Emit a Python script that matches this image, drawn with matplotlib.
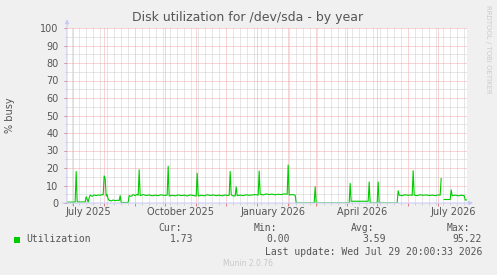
import numpy as np
import pandas as pd
import matplotlib
matplotlib.use("Agg")
import matplotlib.pyplot as plt
import matplotlib.dates as mdates
from matplotlib.patches import Rectangle

# ---------------- data ----------------
sample_dates = [
    "2025-06-24", "2025-07-03", "2025-07-04", "2025-07-05", "2025-07-13", "2025-07-14",
    "2025-07-15", "2025-07-16", "2025-07-17", "2025-07-18", "2025-07-20", "2025-07-22",
    "2025-07-24", "2025-07-26", "2025-07-28", "2025-07-30", "2025-07-31",
    "2025-08-01", "2025-08-02", "2025-08-03", "2025-08-04", "2025-08-05", "2025-08-06",
    "2025-08-08", "2025-08-10", "2025-08-12", "2025-08-14", "2025-08-16", "2025-08-17",
    "2025-08-18", "2025-08-25", "2025-08-26", "2025-08-28", "2025-08-30", "2025-09-01",
    "2025-09-03", "2025-09-04", "2025-09-05", "2025-09-06", "2025-09-09", "2025-09-12",
    "2025-09-15", "2025-09-18", "2025-09-21", "2025-09-24", "2025-09-27", "2025-09-30",
    "2025-10-03", "2025-10-04", "2025-10-05", "2025-10-08", "2025-10-11", "2025-10-14",
    "2025-10-17", "2025-10-20", "2025-10-23", "2025-10-26", "2025-10-29", "2025-11-01",
    "2025-11-02", "2025-11-03", "2025-11-06", "2025-11-09", "2025-11-12", "2025-11-15",
    "2025-11-18", "2025-11-21", "2025-11-24", "2025-11-27", "2025-11-30", "2025-12-02",
    "2025-12-04", "2025-12-05", "2025-12-06", "2025-12-07", "2025-12-10", "2025-12-11",
    "2025-12-12", "2025-12-15", "2025-12-18", "2025-12-21", "2025-12-24", "2025-12-27",
    "2025-12-30", "2026-01-02", "2026-01-03", "2026-01-04", "2026-01-07", "2026-01-10",
    "2026-01-13", "2026-01-16", "2026-01-19", "2026-01-22", "2026-01-25", "2026-01-28",
    "2026-01-31", "2026-02-01", "2026-02-02", "2026-02-05", "2026-02-08", "2026-02-09",
    "2026-02-27", "2026-02-28", "2026-03-01", "2026-04-03", "2026-04-04", "2026-04-05",
    "2026-04-22", "2026-04-23", "2026-04-24", "2026-05-01", "2026-05-02", "2026-05-03",
    "2026-05-21", "2026-05-22", "2026-05-23", "2026-05-26", "2026-05-29", "2026-06-01",
    "2026-06-04", "2026-06-05", "2026-06-06", "2026-06-07", "2026-06-10", "2026-06-13",
    "2026-06-16", "2026-06-19", "2026-06-22", "2026-06-25", "2026-06-28", "2026-07-01",
    "2026-07-03", "2026-07-04", "2026-07-05", "2026-07-06", "2026-07-07", "2026-07-13",
    "2026-07-14", "2026-07-15", "2026-07-18", "2026-07-21", "2026-07-24", "2026-07-27",
    "2026-07-28", "2026-07-29 20:00",
]
busy_pct = [
    0.5, 0.5, 18.0, 0.6, 0.6, 3.6,
    2.2, 0.4, 3.0, 4.5, 3.8, 4.6,
    4.2, 4.6, 4.4, 4.8, 4.6,
    15.5, 14.0, 4.0, 4.8, 2.2, 1.5,
    1.2, 1.7, 1.3, 1.6, 1.4, 4.2,
    0.3, 0.3, 4.2, 3.8, 4.8, 4.2,
    5.0, 4.4, 19.0, 4.2, 4.8, 4.3,
    4.6, 4.1, 4.5, 4.2, 4.7, 4.3,
    4.5, 21.0, 4.0, 4.4, 4.1, 4.6,
    4.2, 4.5, 4.0, 4.6, 4.3, 4.0,
    17.0, 4.0, 4.4, 4.1, 4.7, 4.3,
    4.6, 4.2, 4.5, 4.1, 4.6, 4.3,
    4.4, 18.0, 5.0, 4.2, 4.0, 9.3,
    4.2, 4.5, 4.2, 4.7, 4.4, 4.6,
    4.8, 4.5, 18.3, 5.0, 4.6, 5.2,
    4.8, 5.1, 4.7, 5.0, 4.8, 5.2,
    5.0, 21.7, 4.6, 4.8, 4.5, 0.0,
    0.0, 9.3, 0.0, 0.0, 11.2, 1.0,
    1.0, 12.0, 0.0, 0.0, 12.0, 0.0,
    0.0, 7.0, 4.5, 4.2, 4.7, 4.4,
    4.6, 4.3, 18.5, 4.5, 4.2, 4.7,
    4.4, 4.6, 4.3, 4.5, 4.2, 4.6,
    4.5, 14.0, np.nan, np.nan, 2.0, 2.0,
    7.5, 4.2, 4.5, 4.1, 4.4, 4.2,
    1.73, 1.73,
]

x_label_text = ["July 2025", "October 2025", "January 2026", "April 2026", "July 2026"]
x_label_at = ["2025-07-16 12:00", "2025-10-16 12:00", "2026-01-16 12:00",
              "2026-04-16 00:00", "2026-07-16 12:00"]

legend_name = "Utilization"
stat_names = ["Cur:", "Min:", "Avg:", "Max:"]
stat_values = ["1.73", "0.00", "3.59", "95.22"]

# ---------------- figure ----------------
W, H = 497, 275
fig = plt.figure(figsize=(W / 100, H / 100), dpi=100, facecolor="#f0f0f0")

def fx(x):
    return x / W

def fy(y):
    return 1 - y / H

L, R, T, B = 67, 467, 28, 203
ax = fig.add_axes([fx(L), fy(B), (R - L) / W, (B - T) / H])
ax.set_facecolor("white")

t = pd.to_datetime(sample_dates, format="mixed")
start = pd.Timestamp("2025-06-24 20:00")
end = pd.Timestamp("2026-07-29 20:00")
ax.set_xlim(start, end)
ax.set_ylim(0, 100)

for s in ax.spines.values():
    s.set_visible(False)

major_c = "#f2a8a8"
minor_c = "#cfcfcf"
dots = (0, (1, 1))

# y grid
ax.set_yticks(range(0, 101, 10))
ax.set_yticks(range(5, 100, 10), minor=True)
ax.yaxis.grid(True, which="minor", color=minor_c, lw=0.72, linestyle=dots)
ax.yaxis.grid(True, which="major", color=major_c, lw=0.72, linestyle=dots)
# x grid
ax.xaxis.set_major_locator(mdates.MonthLocator())
ax.xaxis.set_minor_locator(mdates.WeekdayLocator(byweekday=mdates.MO))
ax.xaxis.set_major_formatter(plt.NullFormatter())
ax.xaxis.grid(True, which="minor", color=minor_c, lw=0.72, linestyle=dots)
ax.xaxis.grid(True, which="major", color=major_c, lw=0.72, linestyle=dots)
ax.set_axisbelow(True)

ax.tick_params(axis="y", which="major", length=2, width=0.72, color="#e08080",
               labelsize=7, labelcolor="#555555", pad=4)
ax.tick_params(axis="y", which="minor", length=1.5, width=0.72, color=minor_c)
ax.tick_params(axis="x", which="major", length=2, width=0.72, color="#e08080")
ax.tick_params(axis="x", which="minor", length=1.5, width=0.72, color=minor_c)

for txt, d in zip(x_label_text, x_label_at):
    ax.text(pd.Timestamp(d), -0.05, txt, transform=ax.get_xaxis_transform(),
            ha="center", va="center", fontsize=7, color="#555555", clip_on=False)

ax.plot(t, busy_pct, color="#00cc00", lw=0.8, zorder=3)

# axis lines with arrows
axis_c = "#c8c8f8"
ax.annotate("", xy=(0, 1.05), xytext=(0, 0), xycoords="axes fraction",
            arrowprops=dict(arrowstyle="-|>", color=axis_c, lw=0.72,
                            mutation_scale=6, shrinkA=0, shrinkB=0),
            annotation_clip=False)
ax.annotate("", xy=(1.015, 0), xytext=(-0.012, 0), xycoords="axes fraction",
            arrowprops=dict(arrowstyle="-|>", color=axis_c, lw=0.72,
                            mutation_scale=6, shrinkA=0, shrinkB=0),
            annotation_clip=False)

# texts
fig.text(fx(248), fy(18), "Disk utilization for /dev/sda - by year", ha="center",
         va="center", fontsize=9, color="#555555")
fig.text(fx(10), fy(115), "% busy", rotation=90, ha="center", va="center",
         fontsize=7, color="#555555")
fig.text(fx(488), fy(5), "RRDTOOL / TOBI OETIKER", rotation=270, ha="center",
         va="top", fontsize=5, color="#cccccc")

mono = "DejaVu Sans Mono"
fig.add_artist(Rectangle((fx(14), fy(243)), 6 / W, 6 / H, transform=fig.transFigure,
                         facecolor="#00cc00", edgecolor="none"))
fig.text(fx(26), fy(239), legend_name, ha="left", va="center", fontsize=7,
         family=mono, color="#555555")
name_left = [158, 254, 351, 447]
val_right = [193, 290, 386, 482]
for n, xl in zip(stat_names, name_left):
    fig.text(fx(xl), fy(228), n, ha="left", va="center", fontsize=7, family=mono,
             color="#555555")
for v, xr in zip(stat_values, val_right):
    fig.text(fx(xr), fy(239), v, ha="right", va="center", fontsize=7, family=mono,
             color="#555555")
fig.text(fx(482), fy(252), "Last update: Wed Jul 29 20:00:33 2026", ha="right",
         va="center", fontsize=7, family=mono, color="#555555")
fig.text(fx(248), fy(264), "Munin 2.0.76", ha="center", va="center", fontsize=5.5,
         color="#c8c8c8")

fig.savefig("out.png", dpi=100, facecolor=fig.get_facecolor())
